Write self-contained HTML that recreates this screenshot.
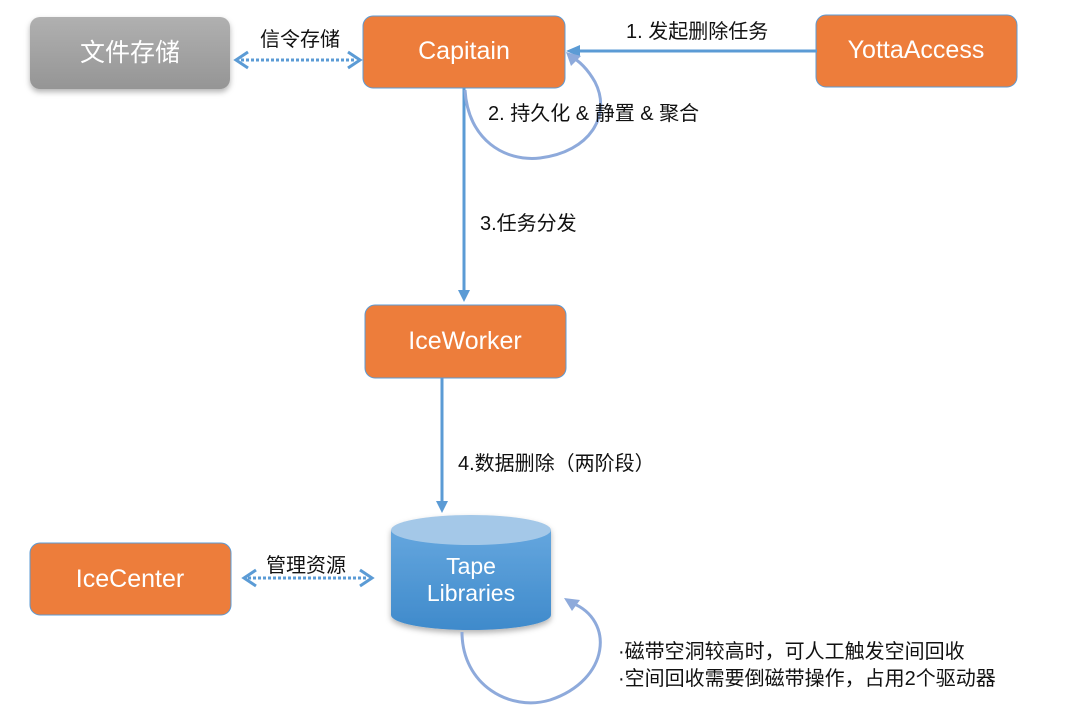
<!DOCTYPE html>
<html><head><meta charset="utf-8"><style>
html,body{margin:0;padding:0;background:#fff;}
svg{display:block;}
text{font-family:"Liberation Sans","Noto Sans CJK SC",sans-serif;}
</style></head><body>
<svg width="1080" height="720" viewBox="0 0 1080 720" xmlns="http://www.w3.org/2000/svg">
<defs>
<linearGradient id="gr" x1="0" y1="0" x2="0" y2="1"><stop offset="0" stop-color="#b0b0b0"/><stop offset="1" stop-color="#959595"/></linearGradient>
<linearGradient id="cyl" x1="0" y1="0" x2="0" y2="1"><stop offset="0" stop-color="#64a6de"/><stop offset="1" stop-color="#3f8acb"/></linearGradient>
<filter id="sh" x="-10%" y="-10%" width="120%" height="130%"><feDropShadow dx="0" dy="3" stdDeviation="3" flood-color="#000" flood-opacity="0.3"/></filter>
</defs>
<rect x="30" y="17" width="200" height="72" rx="10" fill="url(#gr)" filter="url(#sh)"/>
<text x="130" y="61" font-size="25" fill="#fff" text-anchor="middle">文件存储</text>
<rect x="363" y="16" width="202" height="72" rx="10" fill="#ed7d3b" stroke="#5b9bd5" stroke-width="1"/>
<text x="464" y="59" font-size="25" fill="#fff" text-anchor="middle">Capitain</text>
<rect x="816" y="15" width="201" height="72" rx="10" fill="#ed7d3b" stroke="#5b9bd5" stroke-width="1"/>
<text x="916" y="58" font-size="25" fill="#fff" text-anchor="middle">YottaAccess</text>
<rect x="365" y="305" width="201" height="73" rx="10" fill="#ed7d3b" stroke="#5b9bd5" stroke-width="1"/>
<text x="465" y="349" font-size="25" fill="#fff" text-anchor="middle">IceWorker</text>
<rect x="30" y="543" width="201" height="72" rx="10" fill="#ed7d3b" stroke="#5b9bd5" stroke-width="1"/>
<text x="130" y="587" font-size="25" fill="#fff" text-anchor="middle">IceCenter</text>
<g filter="url(#sh)">
<path d="M391 530 L391 615 A80 15 0 0 0 551 615 L551 530 Z" fill="url(#cyl)"/>
<ellipse cx="471" cy="530" rx="80" ry="15" fill="#a4c8e8"/>
</g>
<text x="471" y="574" font-size="23" fill="#fff" text-anchor="middle">Tape</text>
<text x="471" y="601" font-size="23" fill="#fff" text-anchor="middle">Libraries</text>
<g stroke="#5b9bd5" stroke-width="3" fill="none">
<line x1="817" y1="51" x2="572" y2="51"/>
<line x1="464" y1="88" x2="464" y2="293"/>
<line x1="442" y1="378" x2="442" y2="503"/>
<line x1="241" y1="60" x2="354" y2="60" stroke-dasharray="3 2"/>
<polyline points="248,52 236,60 248,68"/>
<polyline points="348,52 360,60 348,68"/>
<line x1="248" y1="578" x2="366" y2="578" stroke-dasharray="3 2"/>
<polyline points="256,570 244,578 256,586"/>
<polyline points="360,570 372,578 360,586"/>
</g>
<polygon points="566,51 580,45 580,57" fill="#5b9bd5"/>
<polygon points="464,302 458,290 470,290" fill="#5b9bd5"/>
<polygon points="442,513 436,501 448,501" fill="#5b9bd5"/>
<g stroke="#8eaadb" stroke-width="3" fill="none">
<path d="M465 90 C468 140 505 162 540 158 C590 152 612 115 595 82 C587 68 578 60 570 56"/>
<path d="M462 632 C462 685 510 712 550 700 C610 680 615 620 572 603"/>
</g>
<polygon points="566,52 581,56 571,66" fill="#8eaadb"/>
<polygon points="564,598 580,600 572,611" fill="#8eaadb"/>
<g font-size="20" fill="#111">
<text x="260" y="46">信令存储</text>
<text x="626" y="38">1. 发起删除任务</text>
<text x="488" y="120">2. 持久化 &amp; 静置 &amp; 聚合</text>
<text x="480" y="230">3.任务分发</text>
<text x="458" y="470">4.数据删除（两阶段）</text>
<text x="266" y="572">管理资源</text>
<text x="618" y="658">·磁带空洞较高时，可人工触发空间回收</text>
<text x="618" y="685">·空间回收需要倒磁带操作，占用2个驱动器</text>
</g>
</svg>
</body></html>
